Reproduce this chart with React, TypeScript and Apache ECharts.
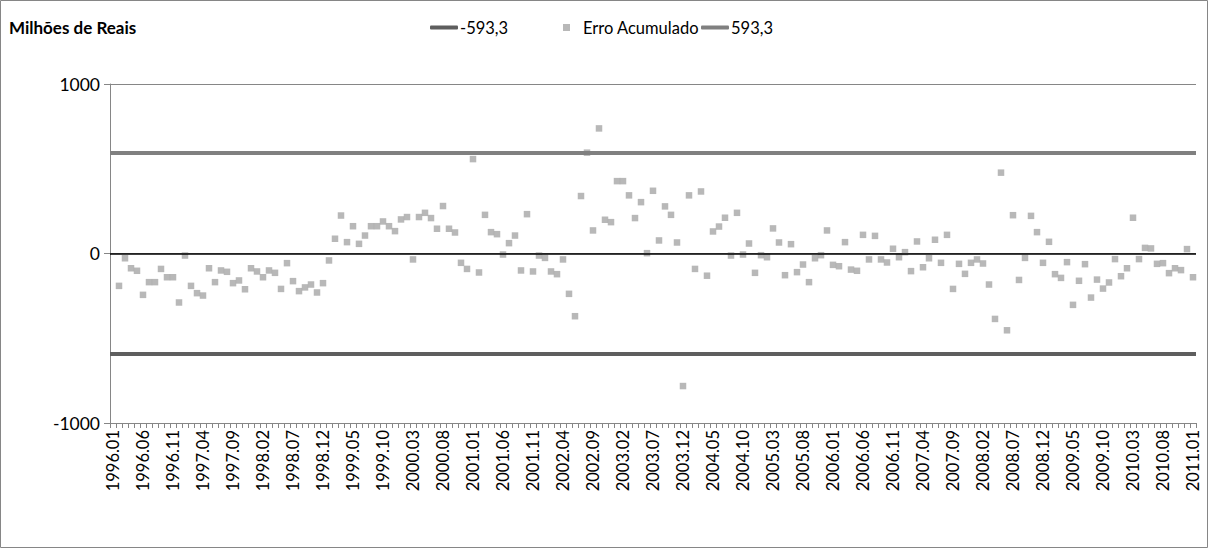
import React, { useEffect, useRef } from "react";
import * as echarts from "echarts";

// Monthly labels 1996.01 .. 2011.01
const startYear = 1996;
const monthCount = 181;
const categories: string[] = [];
for (let i = 0; i < monthCount; i++) {
  const y = startYear + Math.floor(i / 12);
  const m = (i % 12) + 1;
  categories.push(`${y}.${m < 10 ? "0" + m : m}`);
}

// Cumulative error (millions of reais); 1996.01 has no value
const erroAcumulado: (number | null)[] = [
  null,
  -191, -28, -87, -102, -244, -169, -169, -91, -140, -140,
  -289, -12, -191, -234, -248, -87, -169, -100, -108, -175,
  -159, -211, -87, -106, -140, -100, -114, -209, -57, -163,
  -222, -200, -183, -230, -175, -41, 87, 224, 67, 161,
  57, 106, 161, 161, 189, 161, 132, 201, 215, -35,
  215, 240, 209, 146, 280, 146, 124, -55, -91, 557,
  -112, 228, 126, 114, -6, 61, 106, -100, 232, -106,
  -12, -26, -106, -122, -35, -238, -370, 339, 595, 136,
  738, 199, 185, 427, 427, 343, 209, 303, 2, 370,
  77, 278, 228, 65, -782, 343, -91, 366, -131, 130,
  159, 211, -12, 240, -6, 59, -114, -10, -22, 148,
  65, -128, 55, -110, -65, -169, -28, -10, 136, -67,
  -75, 67, -95, -102, 110, -35, 104, -35, -53, 28,
  -22, 8, -104, 71, -81, -28, 81, -55, 110, -209,
  -61, -120, -55, -35, -59, -183, -386, 477, -453, 226,
  -156, -26, 222, 126, -55, 69, -122, -144, -51, -303,
  -161, -63, -260, -154, -207, -171, -33, -134, -87, 211,
  -33, 33, 30, -61, -57, -116, -87, -98, 26, -140,
];

// Control limits
const limiteInferior = -593.3;
const limiteSuperior = 593.3;

// Y axis range
const yMin = -1000;
const yMax = 1000;
const yStep = 1000;

const fmt = (v: number) => String(v).replace(".", ",");

const FONT = "Lato";

export default function App() {
  const ref = useRef<HTMLDivElement>(null);

  useEffect(() => {
    document.body.style.margin = "0";
    if (!ref.current) return;
    const chart = echarts.init(ref.current, undefined, { renderer: "svg" });
    const nameInf = fmt(limiteInferior);
    const nameSup = fmt(limiteSuperior);
    const lineInfColor = "#5e5e5e";
    const lineSupColor = "#808080";
    const markerColor = "#a6a6a6";
    const axisColor = "#868686";
    const legendText = { fontFamily: FONT, fontSize: 16.5, color: "#000" };

    chart.setOption({
      animation: false,
      textStyle: { fontFamily: FONT, color: "#000" },
      title: {
        text: "Milhões de Reais",
        left: 9,
        top: 19,
        padding: 0,
        textStyle: { fontFamily: FONT, fontWeight: "bold", fontSize: 17, color: "#000" },
      },
      legend: [
        {
          data: [{ name: nameInf, icon: "roundRect" }],
          left: 430,
          top: 19,
          padding: 0,
          itemWidth: 28,
          itemHeight: 4,
          textStyle: { ...legendText, padding: [0, 0, 0, -3] },
        },
        {
          data: [{ name: "Erro Acumulado", icon: "rect" }],
          left: 563,
          top: 19,
          padding: 0,
          itemWidth: 7,
          itemHeight: 7,
          textStyle: { ...legendText, padding: [0, 0, 0, 8] },
        },
        {
          data: [{ name: nameSup, icon: "roundRect" }],
          left: 701,
          top: 19,
          padding: 0,
          itemWidth: 28,
          itemHeight: 4,
          textStyle: { ...legendText, padding: [0, 0, 0, -3] },
        },
      ],
      grid: { left: 110, right: 12, top: 84, bottom: 125, containLabel: false },
      xAxis: {
        type: "category",
        data: categories,
        boundaryGap: true,
        position: "bottom",
        axisLine: { onZero: false, lineStyle: { color: axisColor, width: 1 } },
        axisTick: { show: true, interval: 0, length: 5, lineStyle: { color: axisColor } },
        axisLabel: {
          interval: 4,
          rotate: 90,
          margin: 7,
          fontFamily: FONT,
          fontSize: 16.5,
          color: "#000",
        },
        splitLine: { show: false },
      },
      yAxis: {
        type: "value",
        min: yMin,
        max: yMax,
        interval: yStep,
        axisLine: { show: true, lineStyle: { color: axisColor, width: 1 } },
        axisTick: { show: true, length: 6, lineStyle: { color: axisColor } },
        axisLabel: {
          fontFamily: FONT,
          fontSize: 17.5,
          color: "#000",
          margin: 10,
          formatter: (v: number) => String(v),
        },
        splitLine: { show: true, lineStyle: { color: axisColor, width: 1 } },
      },
      series: [
        {
          name: nameInf,
          type: "line",
          data: [],
          color: lineInfColor,
          lineStyle: { color: lineInfColor, width: 4 },
          markLine: {
            silent: true,
            symbol: ["none", "none"],
            label: { show: false },
            lineStyle: { color: lineInfColor, width: 4, type: "solid" },
            data: [{ yAxis: limiteInferior }],
          },
        },
        {
          name: "Erro Acumulado",
          type: "scatter",
          symbol: "rect",
          symbolSize: 6.5,
          color: markerColor,
          itemStyle: { color: markerColor },
          data: erroAcumulado,
          markLine: {
            silent: true,
            symbol: ["none", "none"],
            label: { show: false },
            lineStyle: { color: "#000", width: 1.5, type: "solid" },
            data: [{ yAxis: 0 }],
          },
        },
        {
          name: nameSup,
          type: "line",
          data: [],
          color: lineSupColor,
          lineStyle: { color: lineSupColor, width: 4 },
          markLine: {
            silent: true,
            symbol: ["none", "none"],
            label: { show: false },
            lineStyle: { color: lineSupColor, width: 4, type: "solid" },
            data: [{ yAxis: limiteSuperior }],
          },
        },
      ],
      graphic: [
        {
          type: "rect",
          shape: { x: 0.5, y: 0.5, width: 1207, height: 547 },
          style: { fill: "none", stroke: "#868686", lineWidth: 1 },
          silent: true,
        },
      ],
    });
    return () => chart.dispose();
  }, []);

  return (
    <div
      ref={ref}
      style={{ position: "fixed", left: 0, top: 0, width: 1208, height: 548, background: "#fff" }}
    />
  );
}
